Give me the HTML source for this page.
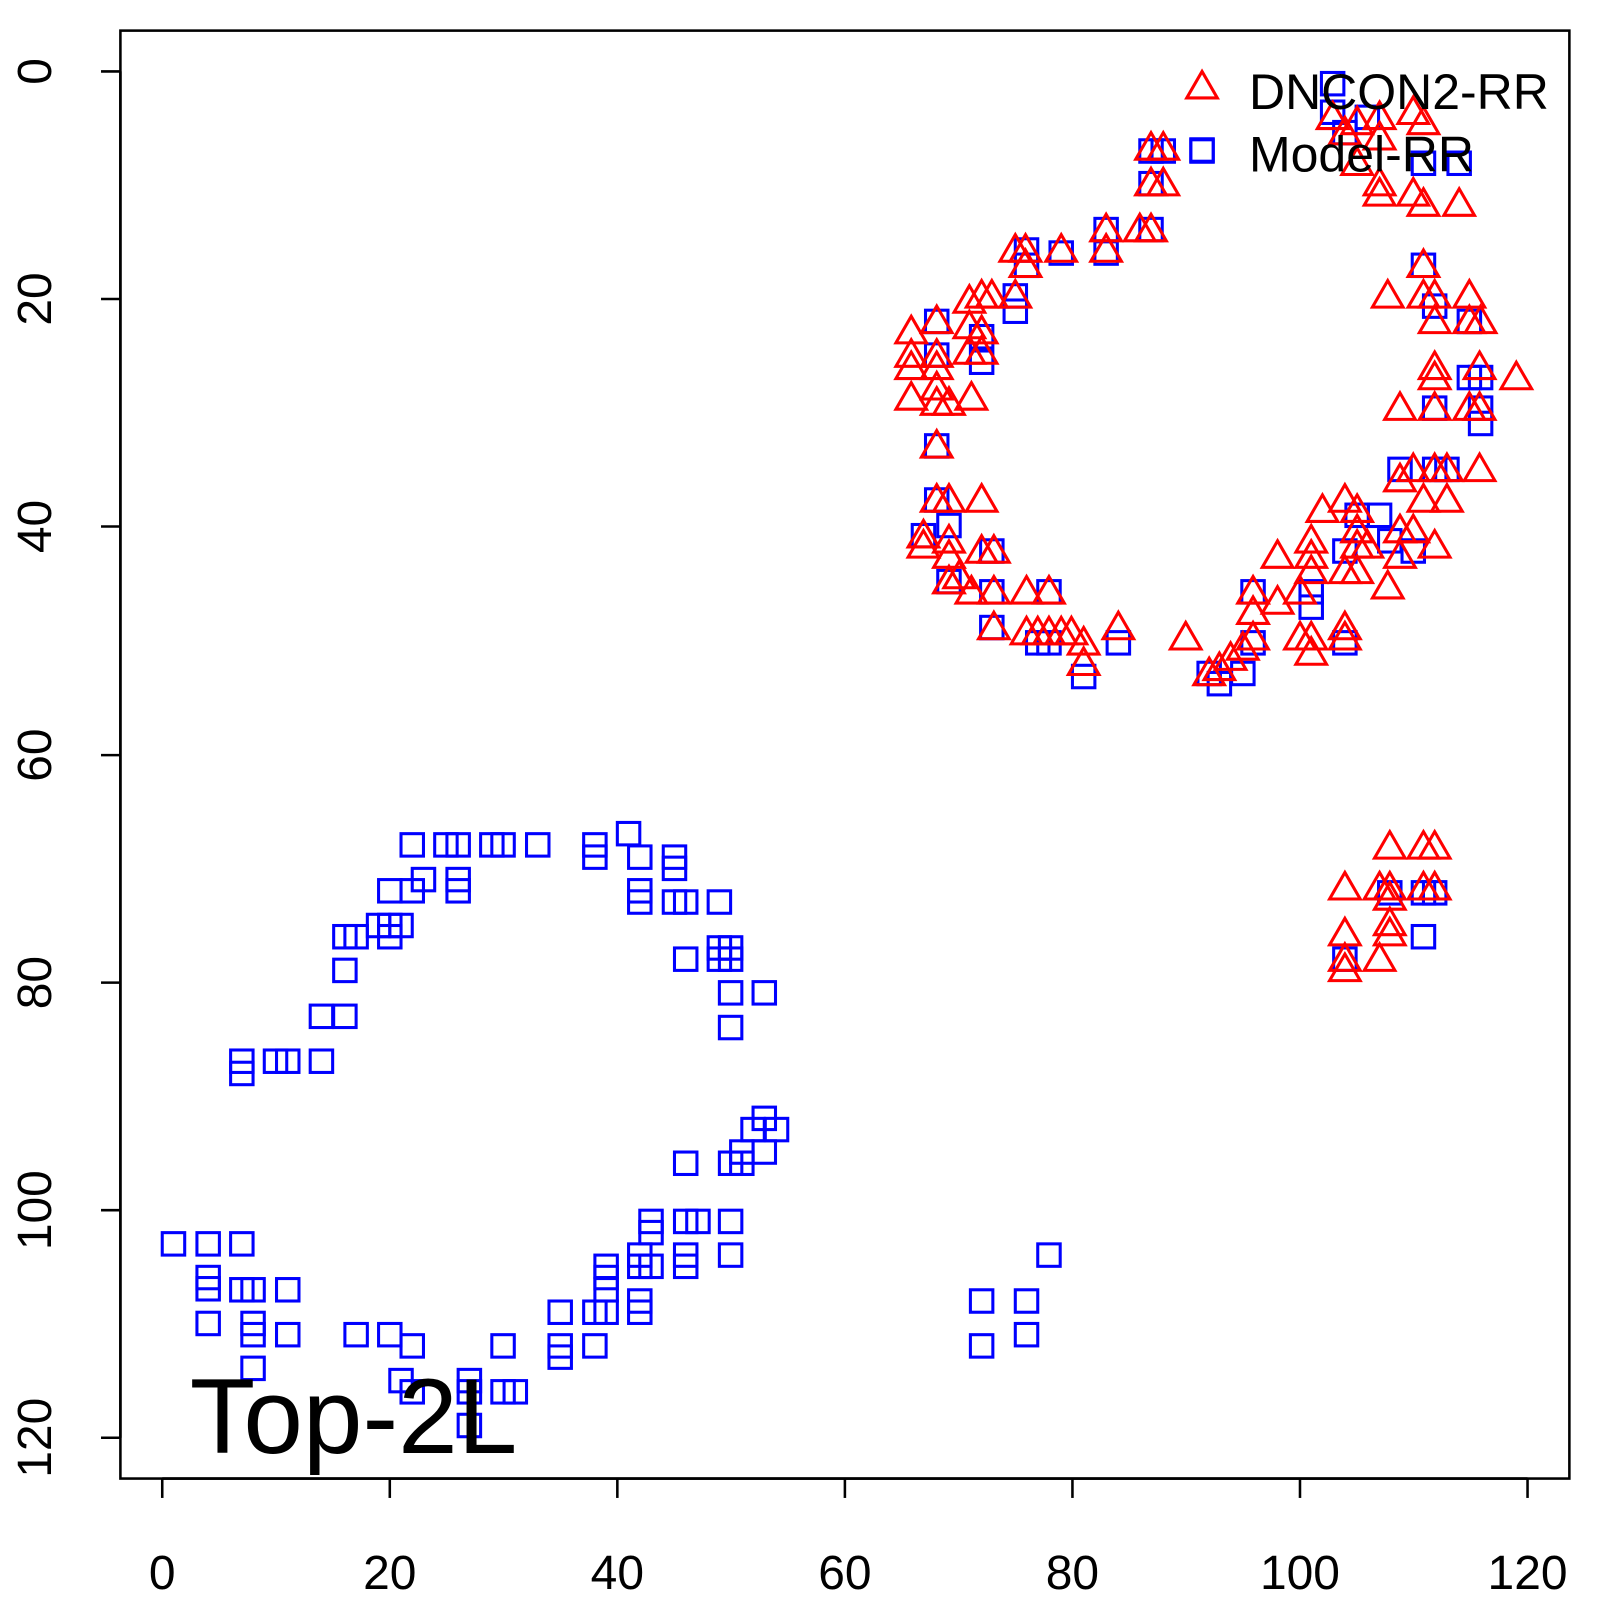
<!DOCTYPE html>
<html><head><meta charset="utf-8"><style>html,body{margin:0;padding:0;background:#fff}svg{display:block}</style></head>
<body>
<svg id="s" width="1600" height="1600" xmlns="http://www.w3.org/2000/svg" font-family="Liberation Sans, sans-serif">
<g transform="scale(1.0204)">
<rect x="118" y="30" width="1420" height="1419" fill="none" stroke="#000" stroke-width="2.5"/>
<g stroke="#000" stroke-width="2.5">
<line x1="159" y1="1449" x2="1497" y2="1449"/>
<line x1="159" y1="1449" x2="159" y2="1468"/><line x1="382" y1="1449" x2="382" y2="1468"/><line x1="605" y1="1449" x2="605" y2="1468"/><line x1="828" y1="1449" x2="828" y2="1468"/><line x1="1051" y1="1449" x2="1051" y2="1468"/><line x1="1274" y1="1449" x2="1274" y2="1468"/><line x1="1497" y1="1449" x2="1497" y2="1468"/>
<line x1="118" y1="70" x2="118" y2="1409"/>
<line x1="99" y1="70" x2="118" y2="70"/><line x1="99" y1="293" x2="118" y2="293"/><line x1="99" y1="516" x2="118" y2="516"/><line x1="99" y1="740" x2="118" y2="740"/><line x1="99" y1="963" x2="118" y2="963"/><line x1="99" y1="1186" x2="118" y2="1186"/><line x1="99" y1="1409" x2="118" y2="1409"/>
</g>
<g font-size="47" text-anchor="middle" fill="#000">
<text x="159" y="1557">0</text><text x="382" y="1557">20</text><text x="605" y="1557">40</text><text x="828" y="1557">60</text><text x="1051" y="1557">80</text><text x="1274" y="1557">100</text><text x="1497" y="1557">120</text>
<text transform="translate(50,70) rotate(-90)">0</text><text transform="translate(50,293) rotate(-90)">20</text><text transform="translate(50,516) rotate(-90)">40</text><text transform="translate(50,740) rotate(-90)">60</text><text transform="translate(50,963) rotate(-90)">80</text><text transform="translate(50,1186) rotate(-90)">100</text><text transform="translate(50,1409) rotate(-90)">120</text>
</g>
<g id="pts"></g>
<g font-size="49" fill="#000"><text x="1224" y="107">DNCON2-RR</text><text x="1224" y="168">Model-RR</text></g>
<text x="186" y="1424" font-size="105" fill="#000">Top-2L</text>
</g>
</svg>
<script>
var sq=[[170,1219],[204,1219],[237,1219],[204,1252],[204,1263],[204,1297],[237,1264],[248,1264],[282,1264],[248,1297],[248,1308],[282,1308],[248,1341],[349,1308],[382,1308],[404,1319],[393,1353],[404,1364],[460,1353],[460,1364],[460,1397],[493,1319],[493,1364],[505,1364],[549,1286],[549,1319],[549,1330],[583,1286],[583,1319],[594,1241],[594,1252],[594,1264],[594,1286],[627,1230],[627,1241],[627,1275],[627,1286],[638,1197],[638,1208],[638,1241],[672,1140],[672,1197],[672,1230],[672,1241],[684,1197],[716,1140],[716,1197],[716,1230],[727,1129],[727,1140],[738,1107],[749,1096],[749,1129],[761,1107],[237,1040],[237,1052],[270,1040],[282,1040],[315,1040],[315,996],[338,996],[338,951],[338,918],[349,918],[371,907],[382,907],[382,918],[393,907],[382,873],[404,873],[415,862],[404,828],[437,828],[449,828],[449,862],[449,873],[482,828],[493,828],[527,828],[583,828],[583,840],[616,817],[627,840],[627,873],[627,884],[661,840],[661,851],[661,884],[672,884],[672,940],[705,884],[705,929],[705,940],[716,929],[716,940],[716,973],[716,1007],[749,973],[962,1275],[962,1319],[1006,1275],[1006,1308],[1028,1230],
[918,315],[918,348],[918,437],[905,525],[918,490],[930,515],[930,570],[962,330],[962,355],[972,540],[972,580],[972,615],[995,290],[995,305],[1006,245],[1006,260],[1040,248],[1084,225],[1084,248],[1128,148],[1128,180],[1128,225],[1140,148],[1178,148],[1028,580],[1017,630],[1028,630],[1062,663],[1096,630],[1185,660],[1195,670],[1218,660],[1228,630],[1228,580],[1285,595],[1285,580],[1318,630],[1330,505],[1318,540],[1352,505],[1362,530],[1372,460],[1385,540],[1406,400],[1406,460],[1418,460],[1440,315],[1451,400],[1451,415],[1440,370],[1451,370],[1395,260],[1406,300],[1306,82],[1306,110],[1318,130],[1340,115],[1395,160],[1430,160],[1362,875],[1395,875],[1406,875],[1395,918],[1318,940],[1178,147]];
var tr=[[893,325],[893,348],[893,360],[893,390],[918,315],[918,348],[918,360],[918,380],[918,395],[918,437],[930,395],[952,390],[950,295],[950,320],[950,345],[962,290],[972,290],[962,345],[962,325],[995,245],[1005,260],[1005,245],[995,290],[1040,245],[1084,225],[1084,245],[1117,225],[1128,145],[1140,145],[1128,180],[1140,180],[1128,225],[1306,115],[1318,130],[1330,120],[1352,115],[1385,110],[1395,120],[1352,135],[1330,160],[1352,180],[1352,190],[1385,190],[1395,200],[1430,200],[1395,260],[1360,290],[1395,290],[1406,290],[1406,315],[1440,290],[1440,315],[1451,315],[1406,360],[1406,370],[1450,360],[1486,370],[1372,400],[1406,400],[1440,400],[1450,400],[1450,460],[1385,460],[1406,460],[1418,460],[1372,470],[1395,490],[1418,490],[1406,535],[1372,520],[1385,520],[1340,535],[1330,535],[1372,545],[1360,575],[1330,500],[1330,520],[1318,490],[1330,560],[1318,560],[1296,500],[1285,530],[1285,545],[1285,560],[1274,580],[1252,545],[1285,625],[1285,640],[1274,625],[1318,615],[1318,625],[1228,580],[1228,600],[1252,590],[1228,625],[1218,635],[1206,645],[1195,655],[1185,660],[1162,625],[1096,615],[1062,630],[1062,650],[1050,620],[1040,620],[1028,580],[1028,620],[1017,620],[1006,580],[1006,620],[974,580],[974,615],[962,490],[974,540],[962,540],[952,580],[940,565],[930,545],[930,530],[918,490],[930,490],[905,525],[905,535],[930,570],[1318,870],[1318,915],[1318,940],[1318,950],[1352,870],[1352,940],[1362,830],[1362,880],[1362,905],[1362,915],[1395,830],[1395,870],[1406,830],[1406,870],[1362,870],[1178,85]];
var h='';
sq.forEach(function(p){h+='<rect x="'+(p[0]-11)+'" y="'+(p[1]-11)+'" width="22" height="22" fill="none" stroke="#00f" stroke-width="3"/>';});
tr.forEach(function(p){var x=p[0],y=p[1];h+='<polygon points="'+x+','+(y-15)+' '+(x+15)+','+(y+11)+' '+(x-15)+','+(y+11)+'" fill="none" stroke="#f00" stroke-width="3"/>';});
document.getElementById('pts').innerHTML=h;
</script>
</body></html>
